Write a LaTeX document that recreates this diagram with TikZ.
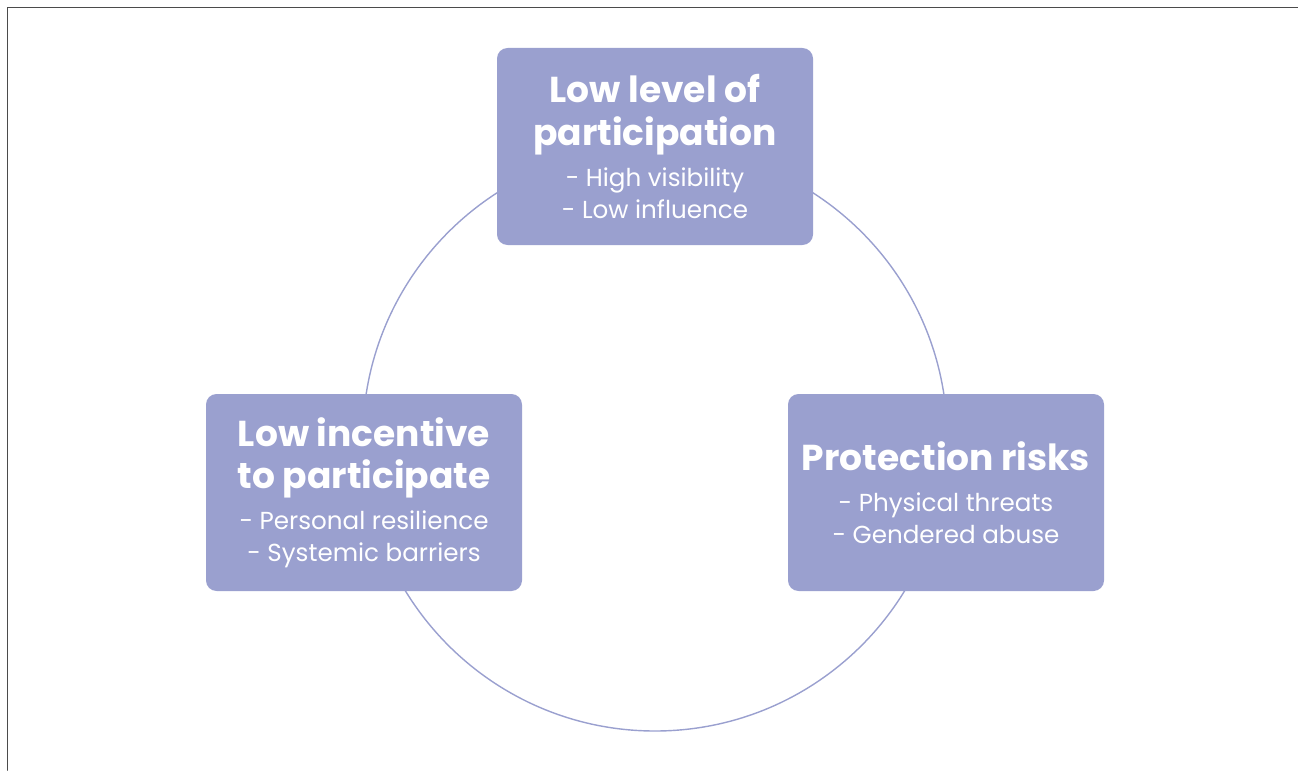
\documentclass[tikz,border=0pt]{standalone}
\usepackage{fontspec}
\setmainfont{Poppins}
\definecolor{lilac}{RGB}{154,160,207}
\definecolor{frameline}{RGB}{75,75,75}
\newcommand{\boxhead}{\fontsize{20.5}{18}\selectfont\bfseries}
\newcommand{\boxitems}{\fontsize{14}{18}\selectfont\mdseries}
\tikzset{
  issue/.style={fill=lilac,draw=none,rounded corners=6pt,minimum width=6.32cm,
    minimum height=3.94cm,text=white,align=center,inner sep=0pt,font=\boxitems},
  ring/.style={draw=lilac,line width=0.8pt},
}
\begin{document}
\begin{tikzpicture}[line cap=round,line join=round]
  \useasboundingbox (0,0) rectangle (25.96,15.4);
  % frame on top and left only
  \draw[frameline,line width=1.1pt] (0.15,0) -- (0.15,15.25) -- (25.96,15.25);
  % cycle behind the boxes
  \coordinate (hub) at (13.10,6.625);
  \draw[ring] (hub) circle (5.845);
  \node[issue] (part) at (13.10,12.47) {\boxhead Low level of\\[6pt]
    \boxhead participation\\[5.5pt] - High visibility\\ - Low influence};
  \node[issue] (risk) at (18.92,5.55) {\boxhead Protection risks\\[5.5pt]
    - Physical threats\\ - Gendered abuse};
  \node[issue] (incent) at (7.28,5.55) {\boxhead Low incentive\\[6pt]
    \boxhead to participate\\[5.5pt] - Personal resilience\\ - Systemic barriers};
\end{tikzpicture}
\end{document}
